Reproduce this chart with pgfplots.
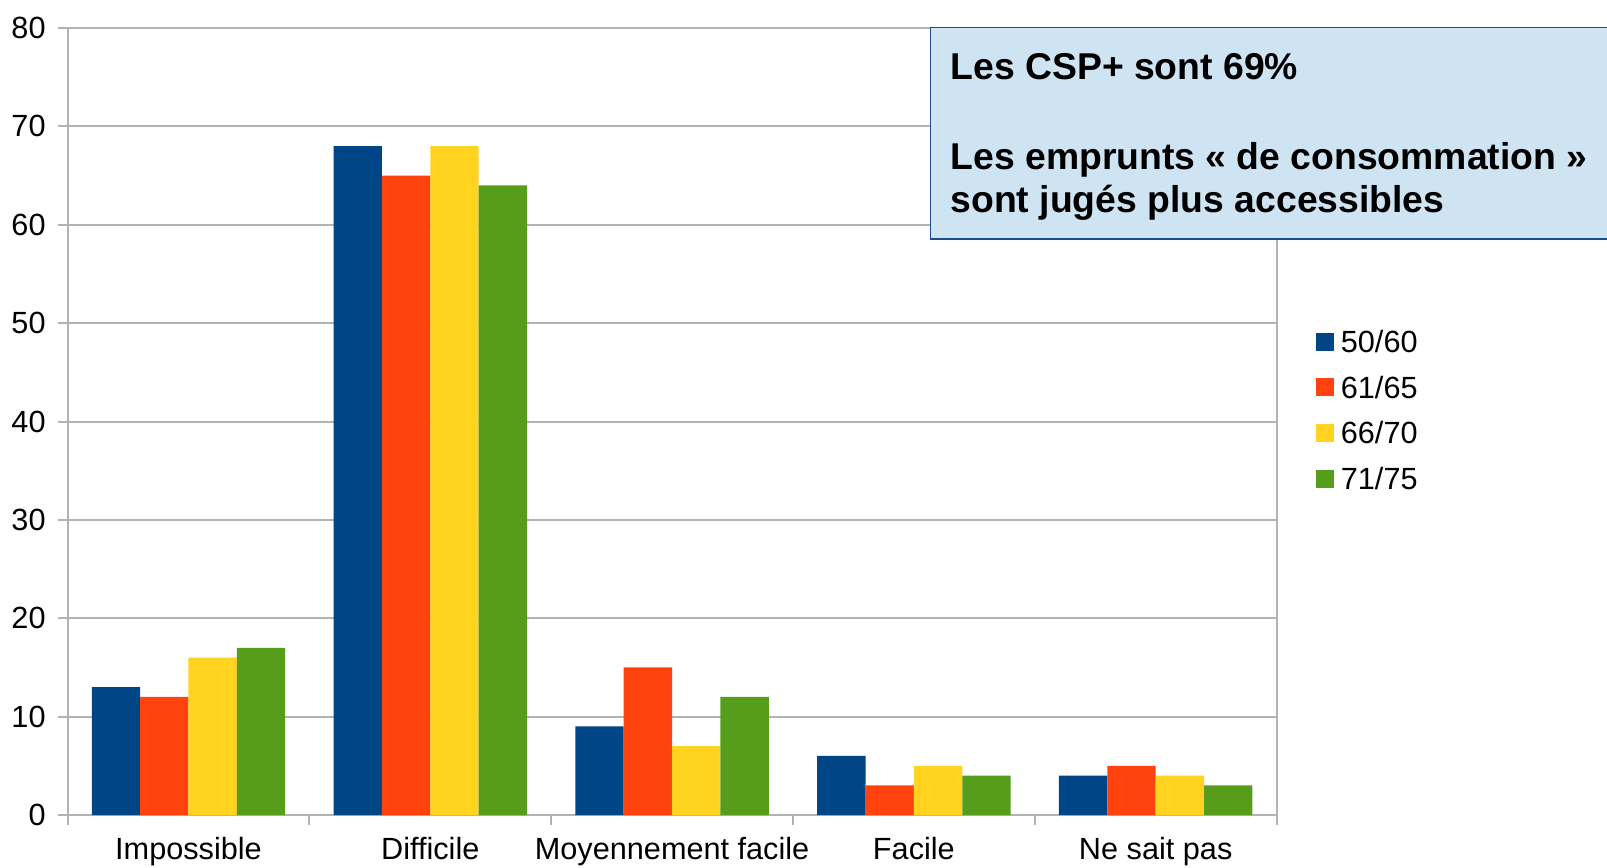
\documentclass[border=0pt]{standalone}
\usepackage{fontspec}
\setmainfont{Liberation Sans}
\usepackage{pgfplots}
\pgfplotsset{compat=1.18}

\definecolor{c1}{HTML}{004586}
\definecolor{c2}{HTML}{FF420E}
\definecolor{c3}{HTML}{FFD320}
\definecolor{c4}{HTML}{579D1C}
\definecolor{gridgray}{HTML}{B3B3B3}
\definecolor{boxfill}{HTML}{CFE4F3}
\definecolor{boxline}{HTML}{1C4F8A}

\begin{document}
\begin{tikzpicture}
\begin{axis}[
    name=ax,
    scale only axis,
    width=362.7pt,
    height=236.1pt,
    ybar=0pt,
    bar width=0.2,
    xmin=-0.5, xmax=4.5,
    ymin=0, ymax=80,
    ytick={0,10,...,80},
    xtick={-0.5,0.5,...,4.5},
    xticklabels={Impossible,Difficile,Moyennement facile,Facile,Ne sait pas},
    x tick label as interval,
    xtick pos=bottom,
    ytick pos=left,
    tick align=outside,
    major tick length=2.9pt,
    tick style={gridgray, line width=0.6pt},
    axis line style={gridgray, line width=0.6pt},
    ymajorgrids,
    grid style={gridgray, line width=0.6pt},
    /pgf/number format/assume math mode=true,
    tick label style={font=\fontsize{9.2}{11}\selectfont, text=black, inner sep=0pt},
    yticklabel style={xshift=-3.5pt},
    xticklabel style={anchor=base, yshift=-10.5pt},
    legend style={
        at={(1.0325,0.6156)}, anchor=north west,
        draw=none, fill=none, inner sep=0pt, outer sep=0pt,
        font=\fontsize{9.2}{11}\selectfont,
        nodes={inner sep=0pt, text height=6.6pt, text depth=0pt},
        row sep=7.1pt, column sep=2.1pt,
    },
    legend cell align=left,
    legend image code/.code={\fill[#1] (0pt,-2.7pt) rectangle (5.4pt,2.7pt);},
]
\addplot[fill=c1, draw=none] coordinates {(0,13) (1,68) (2,9) (3,6) (4,4)};
\addplot[fill=c2, draw=none] coordinates {(0,12) (1,65) (2,15) (3,3) (4,5)};
\addplot[fill=c3, draw=none] coordinates {(0,16) (1,68) (2,7) (3,5) (4,4)};
\addplot[fill=c4, draw=none] coordinates {(0,17) (1,64) (2,12) (3,4) (4,3)};
\legend{50/60,61/65,66/70,71/75}
\end{axis}

% annotation box
\draw[fill=boxfill, draw=boxline, line width=0.5pt]
    ([xshift=258.9pt,yshift=172.9pt]ax.south west) rectangle ([xshift=480pt,yshift=236.2pt]ax.south west);
\begin{scope}[every node/.style={anchor=base west, inner sep=0pt, font=\fontsize{11.2}{13.3}\selectfont\bfseries}]
\node at ([xshift=264.7pt,yshift=220.5pt]ax.south west) {Les CSP+ sont 69\%};
\node at ([xshift=264.7pt,yshift=193.8pt]ax.south west) {Les emprunts « de consommation »};
\node at ([xshift=264.7pt,yshift=180.6pt]ax.south west) {sont jugés plus accessibles};
\end{scope}

\pgfresetboundingbox
\path ([xshift=-20.28pt,yshift=-15.6pt]ax.south west) rectangle ([xshift=461.82pt,yshift=244.5pt]ax.south west);
\end{tikzpicture}
\end{document}
